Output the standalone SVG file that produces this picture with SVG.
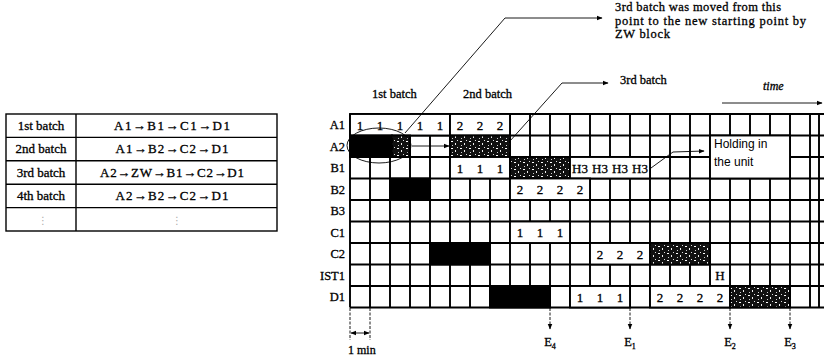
<svg xmlns="http://www.w3.org/2000/svg" width="824" height="358" viewBox="0 0 824 358">
<style>
.t{font-family:"Liberation Serif","Times New Roman",serif;fill:#000;stroke:#000;stroke-width:0.3}
.lab{font-size:12.5px;text-anchor:end}
.tb{font-size:13px;text-anchor:middle}
.dg{font-size:13px;text-anchor:middle}
.ann{font-size:12.5px}
.s{font-family:"Liberation Sans",Arial,sans-serif;font-size:12px;fill:#000}
.grid{stroke:#000;stroke-width:1.9;fill:none}
.tbl{stroke:#000;stroke-width:1.4;fill:none}
.wb{fill:#fff;stroke:#000;stroke-width:1.9}
.bk{fill:#000;stroke:#000;stroke-width:1.9}
.ht{fill:url(#half);stroke:#000;stroke-width:1.9}
.ln{stroke:#000;stroke-width:0.9;fill:none}
.dl{stroke:#000;stroke-width:0.9;fill:none;stroke-dasharray:3 1.5}
.dots{font-family:"DejaVu Sans",sans-serif;font-size:10px;fill:#aaa;text-anchor:middle}
</style>
<defs>
<marker id="ah" viewBox="0 0 10 10" refX="9" refY="5" markerWidth="6" markerHeight="6" orient="auto-start-reverse" markerUnits="userSpaceOnUse">
<path d="M0,1 L10,5 L0,9 z" fill="#000"/>
</marker>
<pattern id="half" width="9" height="7" patternUnits="userSpaceOnUse">
<rect width="9" height="7" fill="#111"/>
<rect x="1" y="1" width="2" height="1" fill="#fff"/>
<rect x="5" y="3" width="1" height="2" fill="#eee"/>
<rect x="2" y="5" width="1" height="1" fill="#ccc"/>
<rect x="7" y="0" width="1" height="1" fill="#ddd"/>
</pattern>
</defs>

<g id="batch-table">
<rect class="tbl" x="6" y="114" width="271" height="117"/>
<line class="tbl" x1="76" y1="114" x2="76" y2="231"/>
<line class="tbl" x1="6" y1="137.4" x2="277" y2="137.4"/>
<line class="tbl" x1="6" y1="160.8" x2="277" y2="160.8"/>
<line class="tbl" x1="6" y1="184.2" x2="277" y2="184.2"/>
<line class="tbl" x1="6" y1="207.6" x2="277" y2="207.6"/>
<text class="t tb" x="41" y="130">1st batch</text>
<text class="t tb" x="172" y="130" textLength="116" lengthAdjust="spacing">A1→B1→C1→D1</text>
<text class="t tb" x="41" y="153.4">2nd batch</text>
<text class="t tb" x="172" y="153.4" textLength="113" lengthAdjust="spacing">A1→B2→C2→D1</text>
<text class="t tb" x="41" y="176.8">3rd batch</text>
<text class="t tb" x="172" y="176.8" textLength="144" lengthAdjust="spacing">A2→ZW→B1→C2→D1</text>
<text class="t tb" x="41" y="200.2">4th batch</text>
<text class="t tb" x="172" y="200.2" textLength="113" lengthAdjust="spacing">A2→B2→C2→D1</text>
<text class="dots" x="43" y="224">⋮</text>
<text class="dots" x="177" y="224">⋮</text>
</g>

<g id="grid">
<path class="grid" d="M350,114H824 M350,135.5H824 M350,157H824 M350,178.5H824 M350,200H824 M350,221.5H824 M350,243H824 M350,264.5H824 M350,286H824 M350,307.5H824"/>
<path class="grid" d="M350,114V307.5 M370,114V307.5 M390,114V307.5 M410,114V307.5 M430,114V307.5 M450,114V307.5 M470,114V307.5 M490,114V307.5 M510,114V307.5 M530,114V307.5 M550,114V307.5 M570,114V307.5 M590,114V307.5 M610,114V307.5 M630,114V307.5 M650,114V307.5 M670,114V307.5 M690,114V307.5 M710,114V307.5 M730,114V307.5 M750,114V307.5 M770,114V307.5 M790,114V307.5 M810,114V307.5 M819,114V307.5"/>
</g>

<g id="row-labels">
<text class="t lab" x="345" y="129">A1</text>
<text class="t lab" x="345" y="150.5">A2</text>
<text class="t lab" x="345" y="172">B1</text>
<text class="t lab" x="345" y="193.5">B2</text>
<text class="t lab" x="345" y="215">B3</text>
<text class="t lab" x="345" y="236.5">C1</text>
<text class="t lab" x="345" y="258">C2</text>
<text class="t lab" x="345" y="279.5">IST1</text>
<text class="t lab" x="345" y="301">D1</text>
</g>

<g id="row-A1">
<rect class="wb" x="350" y="114" width="100" height="21.5"/>
<text class="t dg" y="129.5"><tspan x="360">1</tspan><tspan x="380">1</tspan><tspan x="400">1</tspan><tspan x="420">1</tspan><tspan x="440">1</tspan></text>
<rect class="wb" x="450" y="114" width="60" height="21.5"/>
<text class="t dg" y="129.5"><tspan x="460">2</tspan><tspan x="480">2</tspan><tspan x="500">2</tspan></text>
</g>

<g id="row-A2">
<rect class="bk" x="350" y="135.5" width="42" height="21.5"/>
<rect class="ht" x="392" y="135.5" width="18" height="21.5"/>
<rect class="ht" x="450" y="135.5" width="60" height="21.5"/>
</g>

<g id="row-B1">
<rect class="wb" x="450" y="157" width="60" height="21.5"/>
<text class="t dg" y="172.5"><tspan x="460">1</tspan><tspan x="480">1</tspan><tspan x="500">1</tspan></text>
<rect class="ht" x="510" y="157" width="60" height="21.5"/>
<rect class="wb" x="570" y="157" width="80" height="21.5"/>
<text class="t dg" y="172.5"><tspan x="580">H3</tspan><tspan x="600">H3</tspan><tspan x="620">H3</tspan><tspan x="640">H3</tspan></text>
</g>

<g id="holding-note">
<rect class="wb" x="710" y="135.5" width="80" height="43"/>
<text class="s" x="714" y="148">Holding in</text>
<text class="s" x="714" y="166">the unit</text>
</g>

<g id="row-B2">
<rect class="bk" x="390" y="178.5" width="40" height="21.5"/>
<rect class="wb" x="510" y="178.5" width="80" height="21.5"/>
<text class="t dg" y="194"><tspan x="520">2</tspan><tspan x="540">2</tspan><tspan x="560">2</tspan><tspan x="580">2</tspan></text>
</g>

<g id="row-C1">
<rect class="wb" x="510" y="221.5" width="60" height="21.5"/>
<text class="t dg" y="237"><tspan x="520">1</tspan><tspan x="540">1</tspan><tspan x="560">1</tspan></text>
</g>

<g id="row-C2">
<rect class="bk" x="430" y="243" width="60" height="21.5"/>
<rect class="wb" x="590" y="243" width="60" height="21.5"/>
<text class="t dg" y="258.5"><tspan x="600">2</tspan><tspan x="620">2</tspan><tspan x="640">2</tspan></text>
<rect class="ht" x="650" y="243" width="60" height="21.5"/>
</g>

<g id="row-IST1">
<text class="t dg" x="720" y="280">H</text>
</g>

<g id="row-D1">
<rect class="bk" x="490" y="286" width="60" height="21.5"/>
<rect class="wb" x="570" y="286" width="60" height="21.5"/>
<text class="t dg" y="301.5"><tspan x="580">1</tspan><tspan x="600">1</tspan><tspan x="620">1</tspan></text>
<rect class="wb" x="650" y="286" width="80" height="21.5"/>
<text class="t dg" y="301.5"><tspan x="660">2</tspan><tspan x="680">2</tspan><tspan x="700">2</tspan><tspan x="720">2</tspan></text>
<rect class="ht" x="730" y="286" width="60" height="21.5"/>
</g>

<g id="labels">
<text class="t" font-size="12.5" x="372" y="98">1st batch</text>
<text class="t" font-size="12.5" x="463" y="98">2nd batch</text>
<text class="t" font-size="12.5" x="620" y="84">3rd batch</text>
<text class="t" font-size="12" font-style="italic" x="763" y="90">time</text>
<text class="t ann" x="615" y="11" textLength="166" lengthAdjust="spacing">3rd batch was moved from this</text>
<text class="t ann" x="615" y="24.5" textLength="191" lengthAdjust="spacing">point to the new starting point by</text>
<text class="t ann" x="615" y="38" textLength="55" lengthAdjust="spacing">ZW block</text>
<text class="t" font-size="12" x="348" y="354">1 min</text>
<text class="t" font-size="12.5" text-anchor="middle" x="550" y="346">E<tspan font-size="8" dy="3">4</tspan></text>
<text class="t" font-size="12.5" text-anchor="middle" x="630" y="346">E<tspan font-size="8" dy="3">1</tspan></text>
<text class="t" font-size="12.5" text-anchor="middle" x="730" y="346">E<tspan font-size="8" dy="3">2</tspan></text>
<text class="t" font-size="12.5" text-anchor="middle" x="790" y="346">E<tspan font-size="8" dy="3">3</tspan></text>
</g>

<g id="connectors">
<ellipse class="ln" cx="379" cy="145.5" rx="32" ry="17.5" stroke-width="1.2"/>
<polyline class="ln" points="405,133 505,18 602,18" marker-end="url(#ah)"/>
<polyline class="ln" points="510,141 562,83 608,83" marker-end="url(#ah)"/>
<polyline class="ln" points="651,168 673,152 704,151" marker-end="url(#ah)"/>
<line class="ln" x1="412" y1="146" x2="449" y2="146" marker-end="url(#ah)"/>
<line class="ln" x1="722" y1="103" x2="822" y2="103" marker-end="url(#ah)"/>
<line class="dl" x1="550" y1="308" x2="550" y2="329" marker-end="url(#ah)"/>
<line class="dl" x1="630" y1="308" x2="630" y2="329" marker-end="url(#ah)"/>
<line class="dl" x1="730" y1="308" x2="730" y2="329" marker-end="url(#ah)"/>
<line class="dl" x1="790" y1="308" x2="790" y2="329" marker-end="url(#ah)"/>
<line class="dl" x1="350" y1="308" x2="350" y2="340"/>
<line class="dl" x1="370" y1="308" x2="370" y2="340"/>
<line class="ln" x1="351" y1="333" x2="369" y2="333" marker-start="url(#ah)" marker-end="url(#ah)"/>
</g>
</svg>
